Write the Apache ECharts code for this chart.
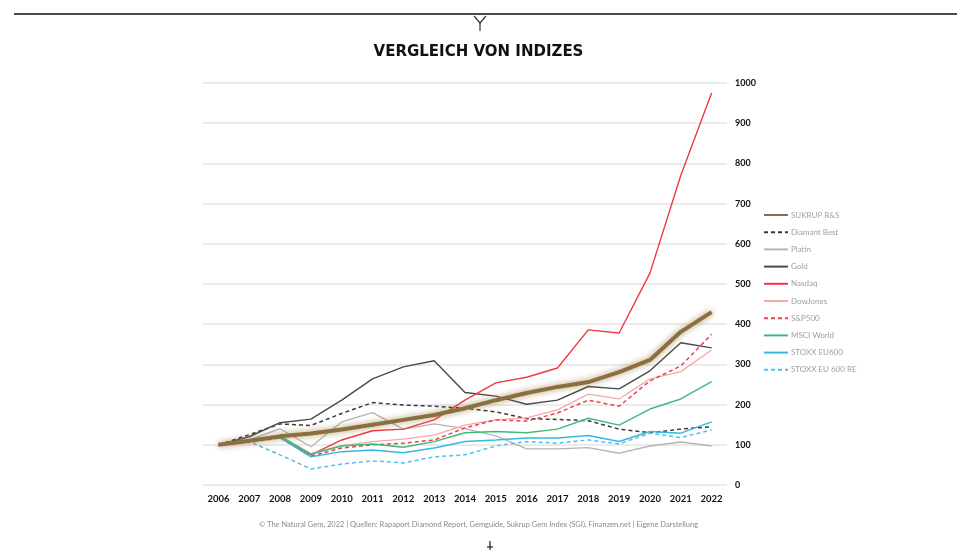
<!DOCTYPE html>
<html>
<head>
<meta charset="utf-8">
<script src="https://cdn.jsdelivr.net/npm/echarts@6/dist/echarts.min.js"></script>
<style>html,body{margin:0;padding:0;background:#fff}#c{width:957px;height:550px}</style>
</head>
<body>
<div id="c"></div>
<script>
var years = ['2006','2007','2008','2009','2010','2011','2012','2013','2014','2015','2016','2017','2018','2019','2020','2021','2022'];
var sukrup    = [100,110,121,128,138,150,162,174,191,211,229,244,256,281,311,381,430];
var diamant   = [100,125,152,148,178,205,199,196,191,182,165,163,160,139,130,139,145];
var platin    = [100,112,140,95,157,180,139,152,140,122,90,90,93,79,97,107,97];
var gold      = [100,120,155,164,211,264,294,309,230,221,201,211,245,239,284,354,341];
var nasdaq    = [100,108,118,75,112,135,139,162,211,254,268,291,386,378,527,770,975];
var dowjones  = [100,108,120,78,98,108,114,124,149,162,167,187,226,214,264,282,336];
var sp500     = [100,106,117,72,92,100,104,112,142,162,159,179,211,196,259,296,375];
var msci      = [100,112,122,77,97,102,94,108,130,133,130,139,166,149,189,214,257];
var stoxx     = [100,112,118,70,83,87,80,92,108,112,117,117,123,108,133,129,157];
var stoxxRE   = [100,108,75,40,52,60,55,70,75,97,108,104,112,102,129,118,137];
var yTicks    = [0,100,200,300,400,500,600,700,800,900,1000];
var names = ['SUKRUP R&S','Diamant Best','Platin','Gold','Nasdaq','DowJones','S&P500','MSCI World','STOXX EU600','STOXX EU 600 RE'];
var title = 'VERGLEICH VON INDIZES';
var footnote = '© The Natural Gem, 2022 | Quellen: Rapaport Diamond Report, Gemguide, Sukrup Gem Index (SGI), Finanzen.net | Eigene Darstellung';

function line(name, data, color, width, type, extra) {
  var s = {
    name: name, type: 'line', data: data, symbol: 'none', smooth: false,
    lineStyle: { color: color, width: width, type: type },
    itemStyle: { color: color },
    emphasis: { disabled: true }, z: 2
  };
  if (extra) { for (var k in extra) s.lineStyle[k] = extra[k]; }
  return s;
}

var chart = echarts.init(document.getElementById('c'), null, { renderer: 'canvas' });
var series = [
  line(names[1], diamant, '#3a3a3a', 1.5, [4,3]),
  line(names[2], platin, '#b4b4b4', 1.3, 'solid'),
  line(names[3], gold, '#4a4a4a', 1.4, 'solid'),
  line(names[4], nasdaq, '#f0393f', 1.4, 'solid'),
  line(names[5], dowjones, '#f5a8a8', 1.3, 'solid'),
  line(names[6], sp500, '#e8434b', 1.5, [4,3]),
  line(names[7], msci, '#3fba7a', 1.4, 'solid'),
  line(names[8], stoxx, '#35b8e3', 1.5, 'solid'),
  line(names[9], stoxxRE, '#4fbfe8', 1.5, [4,3]),
  line(names[0], sukrup, '#8a7040', 4, 'solid', { shadowBlur: 6, shadowColor: 'rgba(150,115,50,0.75)' })
];
series[9].z = 3;

chart.setOption({
  animation: false,
  backgroundColor: '#fff',
  grid: { left: 203, right: 230, top: 83, bottom: 65 },
  xAxis: {
    type: 'category', data: years, boundaryGap: true,
    axisLine: { show: false }, axisTick: { show: false },
    axisLabel: { color: '#111', fontFamily: 'Lato', fontWeight: 'bold', fontSize: 9.5, margin: 9 }
  },
  yAxis: {
    type: 'value', position: 'right', min: 0, max: 1000, interval: 100,
    axisLine: { show: false }, axisTick: { show: false },
    axisLabel: { color: '#111', fontFamily: 'Lato', fontWeight: 'bold', fontSize: 9, margin: 8,
      formatter: function (v) { return yTicks.indexOf(v) >= 0 ? String(v) : ''; } },
    splitLine: { lineStyle: { color: '#e4e4e4', width: 1.5 } }
  },
  legend: {
    orient: 'vertical', left: 758, top: 206,
    data: names, itemWidth: 24, itemHeight: 8, itemGap: 9.2,
    itemStyle: { opacity: 0 },
    textStyle: { color: '#a0a0a0', fontFamily: 'Lato', fontSize: 8, padding: [0,0,0,-2] },
    selectedMode: false
  },
  graphic: [
    { type: 'line', shape: { x1: 14, y1: 14, x2: 957, y2: 14 }, style: { stroke: '#4a4a4a', lineWidth: 2 } },
    { type: 'polyline', shape: { points: [[474,16],[480,23],[486,16]] }, style: { stroke: '#333', lineWidth: 1.2, fill: null } },
    { type: 'line', shape: { x1: 480, y1: 23, x2: 480, y2: 31 }, style: { stroke: '#333', lineWidth: 1.2 } },
    { type: 'text', left: 'center', top: 45, style: { text: title, font: 'bold 15px "DejaVu Sans"', fill: '#111' } },
    { type: 'text', left: 'center', top: 521, style: { text: footnote, font: '7.5px Lato', fill: '#8a8a8a' } },
    { type: 'line', shape: { x1: 490, y1: 541, x2: 490, y2: 550 }, style: { stroke: '#222', lineWidth: 1.2 } },
    { type: 'line', shape: { x1: 487, y1: 547, x2: 493, y2: 547 }, style: { stroke: '#222', lineWidth: 1.2 } }
  ],
  series: series
});
</script>
</body>
</html>
